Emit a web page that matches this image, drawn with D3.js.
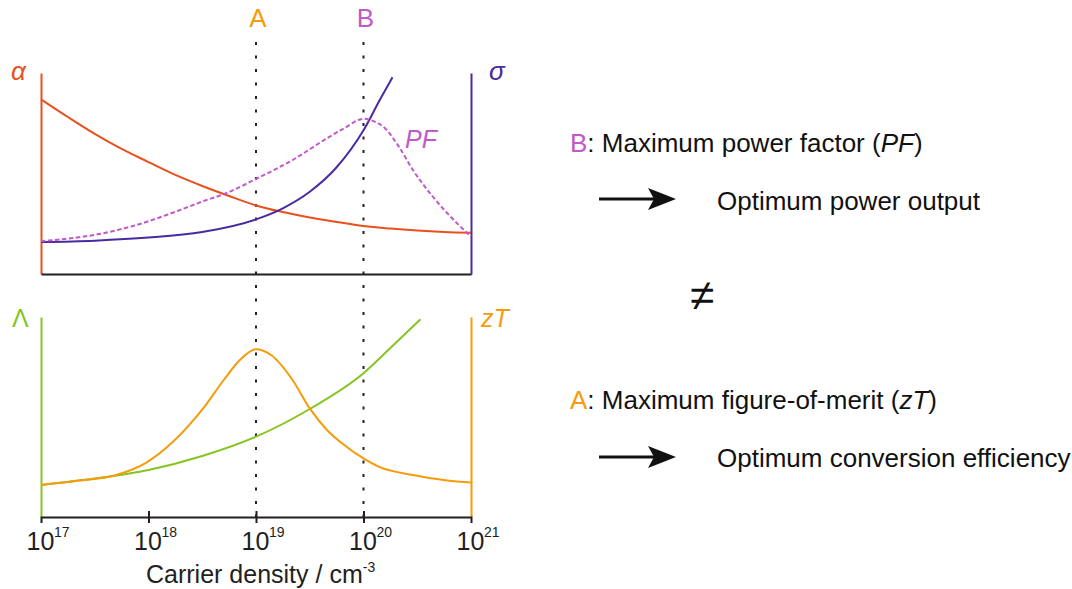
<!DOCTYPE html>
<html>
<head>
<meta charset="utf-8">
<script src="https://cdn.jsdelivr.net/npm/d3@7"></script>
<style>
  html, body { margin: 0; padding: 0; background: #fff; }
  svg { display: block; }
  text { font-family: "Liberation Sans", Arial, Helvetica, sans-serif; }
</style>
</head>
<body>
<svg id="chart" width="1072" height="589"></svg>
<script>
// Carrier density exponents (log10 n, cm^-3) and relative curve heights (0–100)
const xTickExps = [17, 18, 19, 20, 21];

// Upper panel: Seebeck coefficient α, conductivity σ, power factor PF
const alphaLogN = [17, 17.25, 17.5, 17.75, 18, 18.25, 18.5, 18.75, 19, 19.25, 19.5, 19.75, 20, 20.25, 20.5, 20.75, 21];
const alphaVal  = [86.9, 78.1, 69.7, 62.2, 55.7, 49.3, 43.8, 38.8, 34.1, 30.8, 28.1, 25.9, 23.9, 22.6, 21.6, 20.9, 20.5];

const sigmaLogN = [17, 17.5, 18, 18.5, 19, 19.25, 19.5, 19.75, 20, 20.15, 20.27];
const sigmaVal  = [15.9, 16.6, 18.1, 20.9, 27.2, 32.7, 40.9, 53.1, 71.5, 86.4, 97.9];

const pfLogN = [17, 17.57, 17.89, 18.21, 18.54, 18.7, 19, 19.34, 19.66, 19.82, 20, 20.08, 20.2, 20.33, 20.46, 20.62, 20.78, 21];
const pfVal  = [16.3, 20.2, 24.4, 30.2, 36.8, 39.7, 47.3, 56.7, 67.5, 72.5, 77.2, 76.3, 72.5, 63.3, 51.7, 40.1, 30.2, 18.6];

// Lower panel: thermal conductivity Λ and figure of merit zT
const lambdaLogN = [17, 17.5, 18, 18.5, 19, 19.5, 20, 20.25, 20.53];
const lambdaVal  = [16, 19.25, 23.5, 30.5, 40.15, 54, 71.85, 84.5, 98.85];

const ztLogN = [17, 17.35, 17.7, 17.98, 18.23, 18.51, 18.7, 18.85, 19, 19.14, 19.34, 19.5, 19.66, 19.82, 20, 20.14, 20.46, 20.78, 21];
const ztVal  = [16, 18.2, 21, 27.2, 37.7, 54.4, 68.5, 78.5, 83.9, 81, 68.5, 54.3, 43.5, 36, 29.3, 25.2, 21, 18.2, 17.2];

// Optimum points marked by vertical guides
const markerLabels = ["A", "B"];
const markerLogN   = [19, 20];

const colors = {
  alpha: "#E8501E",
  sigma: "#4A2AA0",
  pf: "#C05AC8",
  zt: "#F59B0C",
  lambda: "#86C420",
  axis: "#231F20"
};

const svg = d3.select("#chart");

const x = d3.scaleLog().domain([1e17, 1e21]).range([41, 471]);
const yTop = d3.scaleLinear().domain([0, 100]).range([274, 73]);
const yBot = d3.scaleLinear().domain([0, 100]).range([517, 317]);

const zip = (ln, v) => ln.map((e, i) => ({ n: Math.pow(10, e), v: v[i] }));

function curve(yScale, ln, v, color, dash) {
  const line = d3.line()
    .x(d => x(d.n))
    .y(d => yScale(d.v))
    .curve(d3.curveMonotoneX);
  const p = svg.append("path")
    .datum(zip(ln, v))
    .attr("d", line)
    .attr("fill", "none")
    .attr("stroke", color)
    .attr("stroke-width", 2)
    .attr("stroke-linejoin", "round");
  if (dash) p.attr("stroke-dasharray", dash);
  return p;
}

// Vertical guides at the optima
markerLogN.forEach((e, i) => {
  const xm = x(Math.pow(10, e));
  svg.append("line")
    .attr("x1", xm).attr("x2", xm)
    .attr("y1", 42).attr("y2", 517)
    .attr("stroke", colors.axis)
    .attr("stroke-width", 2)
    .attr("stroke-dasharray", "3,10.5");
  svg.append("text")
    .attr("x", xm + 2).attr("y", 27)
    .attr("text-anchor", "middle")
    .attr("font-size", 26)
    .attr("fill", i === 0 ? colors.zt : colors.pf)
    .text(markerLabels[i]);
});

// Panel frames: coloured vertical axes, dark horizontal baselines
function vAxis(yScale, xPos, color, orient) {
  const ax = (orient === "left" ? d3.axisLeft(yScale) : d3.axisRight(yScale))
    .tickValues([]).tickSizeOuter(0);
  const g = svg.append("g").attr("transform", `translate(${xPos},0)`).call(ax);
  g.select(".domain").attr("stroke", color).attr("stroke-width", 2);
}
vAxis(yTop, 41, colors.alpha, "left");
vAxis(yTop, 471, colors.sigma, "right");
vAxis(yBot, 41, colors.lambda, "left");
vAxis(yBot, 471, colors.zt, "right");

// Upper baseline (no ticks)
const gTopAxis = svg.append("g")
  .attr("transform", "translate(0,274)")
  .call(d3.axisBottom(x).tickValues([]).tickSizeOuter(0));
gTopAxis.select(".domain").attr("stroke", colors.axis).attr("stroke-width", 2);

// Lower baseline with decade ticks
const tickVals = xTickExps.map(e => Math.pow(10, e));
const gBotAxis = svg.append("g")
  .attr("transform", "translate(0,517)")
  .call(d3.axisBottom(x).tickValues(tickVals).tickSizeOuter(0).tickSize(6).tickFormat(""));
gBotAxis.select(".domain").attr("stroke", colors.axis).attr("stroke-width", 2);
gBotAxis.selectAll(".tick line")
  .attr("y1", -6).attr("y2", 6)
  .attr("stroke", colors.axis).attr("stroke-width", 2)
  .style("display", (d, i) => (i === 0 || i === tickVals.length - 1) ? "none" : null);
gBotAxis.selectAll(".tick text").remove();
gBotAxis.selectAll(".tick").each(function(d, i) {
  const g = d3.select(this);
  g.append("text")
    .attr("x", -1).attr("y", 33)
    .attr("text-anchor", "middle")
    .attr("font-size", 25)
    .attr("fill", colors.axis)
    .text("10");
  g.append("text")
    .attr("x", 12.5).attr("y", 19.5)
    .attr("text-anchor", "start")
    .attr("font-size", 14)
    .attr("fill", colors.axis)
    .text(xTickExps[i]);
});

// Axis title
const title = svg.append("text")
  .attr("x", 146).attr("y", 583)
  .attr("font-size", 25)
  .attr("fill", colors.axis);
title.append("tspan").text("Carrier density / cm");
title.append("tspan").attr("font-size", 14).attr("dy", -11).text("-3");

// Curves
curve(yTop, alphaLogN, alphaVal, colors.alpha);
curve(yTop, sigmaLogN, sigmaVal, colors.sigma);
curve(yTop, pfLogN, pfVal, colors.pf, "4.5,2.5");
curve(yBot, lambdaLogN, lambdaVal, colors.lambda);
curve(yBot, ztLogN, ztVal, colors.zt);

// Quantity labels
function label(txt, xp, yp, color, italic, size) {
  svg.append("text")
    .attr("x", xp).attr("y", yp)
    .attr("font-size", size || 25)
    .attr("font-style", italic ? "italic" : "normal")
    .attr("fill", color)
    .text(txt);
}
label("α", 11, 80, colors.alpha, true, 26);
label("σ", 489, 80, colors.sigma, true, 26);
label("PF", 405, 148, colors.pf, true, 25);
label("Λ", 12, 327, colors.lambda, false, 25);
label("zT", 481, 327, colors.zt, true, 25);

// Right-hand annotations
function heading(letter, letterColor, body, italicPart, yp) {
  const t = svg.append("text").attr("x", 570).attr("y", yp).attr("font-size", 26).attr("fill", "#111");
  t.append("tspan").attr("fill", letterColor).text(letter);
  t.append("tspan").text(": " + body + " (");
  t.append("tspan").attr("font-style", "italic").text(italicPart);
  t.append("tspan").text(")");
}
function arrow(yp, txt, ty) {
  svg.append("line")
    .attr("x1", 599).attr("x2", 655)
    .attr("y1", yp).attr("y2", yp)
    .attr("stroke", "#111").attr("stroke-width", 3);
  svg.append("path")
    .attr("d", `M676,${yp} L648,${yp - 11} L654,${yp} L648,${yp + 11} Z`)
    .attr("fill", "#111");
  svg.append("text")
    .attr("x", 717).attr("y", ty)
    .attr("font-size", 26).attr("fill", "#111")
    .text(txt);
}
heading("B", colors.pf, "Maximum power factor", "PF", 152);
arrow(199, "Optimum power output", 210);
svg.append("text")
  .attr("x", 702).attr("y", 310)
  .attr("text-anchor", "middle")
  .attr("font-size", 44).attr("fill", "#111")
  .text("≠");
heading("A", colors.zt, "Maximum figure-of-merit", "zT", 409);
arrow(457, "Optimum conversion efficiency", 467);
</script>
</body>
</html>
